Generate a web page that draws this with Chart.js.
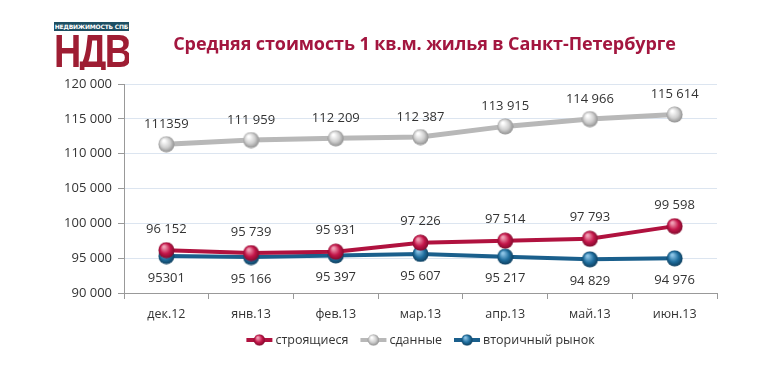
<!DOCTYPE html>
<html>
<head>
<meta charset="utf-8">
<script src="https://cdn.jsdelivr.net/npm/chart.js@4"></script>
<style>
  body { margin: 0; background: #fff; }
  #wrap { position: relative; width: 770px; height: 388px; }
  #grafico { position: absolute; left: 0; top: 0; }
  #titulo { position: absolute; left: 128px; width: 593px; top: 31px; text-align: center;
    font: bold 18px "Open Sans", sans-serif; color: #a3163f; letter-spacing: -0.1px; }
  #logo { position: absolute; left: 54px; top: 22px; width: 75px; overflow: hidden; height: 48px; }
  #logo .faixa { background: #1d4f63; color: #fff; font: bold 6px "DejaVu Sans", sans-serif;
    height: 9px; line-height: 9px; text-align: center; white-space: nowrap; letter-spacing: -0.2px; }
  #logo .sigla { color: #9e1d33; font: 900 46px "Liberation Sans", sans-serif; line-height: 40px;
    transform: scaleX(0.82); transform-origin: left top; white-space: nowrap; letter-spacing: -2px; }
</style>
</head>
<body>
<div id="wrap">
  <canvas id="grafico" width="770" height="388"></canvas>
  <div id="titulo">Средняя стоимость 1 кв.м. жилья в Санкт-Петербурге</div>
  <div id="logo"><div class="faixa">НЕДВИЖИМОСТЬ СПБ</div><div class="sigla">НДВ</div></div>
</div>
<script>
const meses = ['дек.12', 'янв.13', 'фев.13', 'мар.13', 'апр.13', 'май.13', 'июн.13'];

const stroyashchiesya = [96152, 95739, 95931, 97226, 97514, 97793, 99598];
const sdannye = [111359, 111959, 112209, 112387, 113915, 114966, 115614];
const vtorichnyj = [95301, 95166, 95397, 95607, 95217, 94829, 94976];

// rótulos como aparecem na figura
const rotulosStroy = ['96 152', '95 739', '95 931', '97 226', '97 514', '97 793', '99 598'];
const rotulosSdan = ['111359', '111 959', '112 209', '112 387', '113 915', '114 966', '115 614'];
const rotulosVtor = ['95301', '95 166', '95 397', '95 607', '95 217', '94 829', '94 976'];

const eixoY = { min: 90000, max: 120000, passo: 5000 };

function bolinha(claro, cor, escuro) {
  const c = document.createElement('canvas');
  c.width = 17; c.height = 17;
  const ctx = c.getContext('2d');
  const g = ctx.createRadialGradient(6, 5, 1, 8.5, 8.5, 8.5);
  g.addColorStop(0, claro);
  g.addColorStop(0.55, cor);
  g.addColorStop(1, escuro);
  ctx.fillStyle = g;
  ctx.beginPath();
  ctx.arc(8.5, 8.5, 8, 0, Math.PI * 2);
  ctx.fill();
  return c;
}

const bolaVermelha = bolinha('#f0a0b5', '#c4164a', '#7a0a2a');
const bolaCinza = bolinha('#ffffff', '#cfcfcf', '#8a8a8a');
const bolaAzul = bolinha('#8cc4e6', '#1f6e9e', '#0c3a58');

const series = [
  { label: 'строящиеся', data: stroyashchiesya, rotulos: rotulosStroy, cor: '#b0123f', bola: bolaVermelha, largura: 4, desloc: -21 },
  { label: 'сданные', data: sdannye, rotulos: rotulosSdan, cor: '#b8b8b8', bola: bolaCinza, largura: 5, desloc: -20 },
  { label: 'вторичный рынок', data: vtorichnyj, rotulos: rotulosVtor, cor: '#1a5f8c', bola: bolaAzul, largura: 4, desloc: 22 }
];

const rotulosPlugin = {
  id: 'rotulos',
  afterDatasetsDraw(chart) {
    const ctx = chart.ctx;
    ctx.save();
    ctx.font = '13px "Open Sans", sans-serif';
    ctx.fillStyle = '#333';
    ctx.textAlign = 'center';
    ctx.textBaseline = 'middle';
    chart.data.datasets.forEach((ds, i) => {
      const meta = chart.getDatasetMeta(i);
      meta.data.forEach((pt, j) => {
        ctx.fillText(ds.rotulos[j], pt.x, pt.y + ds.desloc);
      });
    });
    ctx.restore();
  }
};

const legendaPlugin = {
  id: 'legendaPropria',
  afterDraw(chart) {
    const ctx = chart.ctx;
    const area = chart.chartArea;
    ctx.save();
    ctx.font = '12.5px "Open Sans", sans-serif';
    ctx.textBaseline = 'middle';
    const marca = 26, folga = 3, espaco = 12;
    const itens = chart.data.datasets.map(ds => ({ ds, w: marca + folga + ctx.measureText(ds.label).width }));
    const total = itens.reduce((s, it) => s + it.w, 0) + espaco * (itens.length - 1);
    let x = (area.left + area.right) / 2 - total / 2;
    const y = 340;
    itens.forEach(it => {
      ctx.strokeStyle = it.ds.cor;
      ctx.lineWidth = 4;
      ctx.beginPath();
      ctx.moveTo(x, y);
      ctx.lineTo(x + marca, y);
      ctx.stroke();
      ctx.drawImage(it.ds.bola, x + marca / 2 - 6, y - 6, 12, 12);
      ctx.fillStyle = '#333';
      ctx.fillText(it.ds.label, x + marca + folga, y);
      x += it.w + espaco;
    });
    ctx.restore();
  }
};

const grafico = new Chart(document.getElementById('grafico'), {
  type: 'line',
  data: {
    labels: meses,
    datasets: series.map(s => ({
      label: s.label,
      data: s.data,
      rotulos: s.rotulos,
      desloc: s.desloc,
      cor: s.cor,
      bola: s.bola,
      borderColor: s.cor,
      borderWidth: s.largura,
      pointStyle: s.bola,
      pointRadius: 8,
      tension: 0
    }))
  },
  options: {
    responsive: false,
    animation: false,
    layout: { padding: { top: 84, left: 54, right: 53, bottom: 60 } },
    plugins: { legend: { display: false }, tooltip: { enabled: false } },
    scales: {
      x: {
        offset: true,
        afterFit: s => { s.height = 35; },
        grid: { drawOnChartArea: false, offset: true, tickLength: 6, tickColor: '#999' },
        border: { color: '#999' },
        ticks: { color: '#333', font: { family: '"Open Sans", sans-serif', size: 12.5 }, padding: 8 }
      },
      y: {
        min: eixoY.min,
        max: eixoY.max,
        afterFit: s => { s.width = 70; },
        grid: { color: '#dce5f0', tickLength: 6, tickColor: '#999' },
        border: { color: '#999' },
        ticks: {
          stepSize: eixoY.passo,
          color: '#333',
          font: { family: '"Open Sans", sans-serif', size: 13 },
          padding: 6,
          callback: v => v.toLocaleString('ru-RU').replace(/\s/g, ' ')
        }
      }
    }
  },
  plugins: [rotulosPlugin, legendaPlugin]
});
</script>
</body>
</html>
